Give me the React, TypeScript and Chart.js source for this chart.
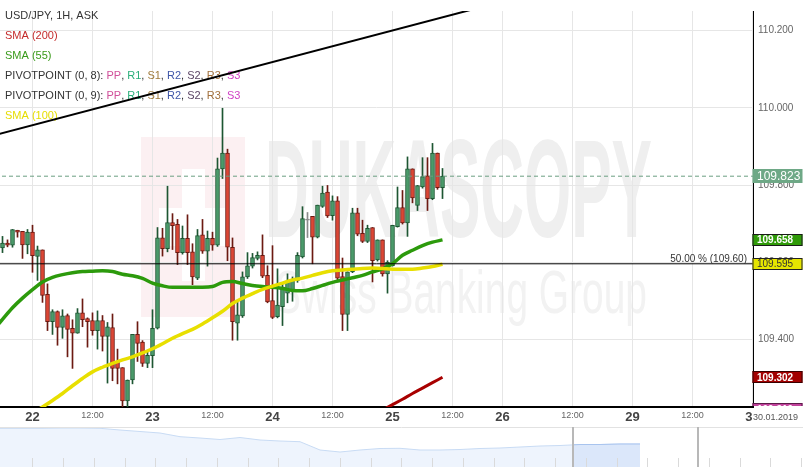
import React, { useEffect, useRef } from 'react';
import { Chart, registerables } from 'chart.js';

Chart.register(...registerables);

const FONT = '"Liberation Sans", Arial, Helvetica, sans-serif';

// ---- time axis (hours from 22 Jan 00:00) ----
const X_MIN = -6.5;
const X_MAX = 144.1;
const TICK_HOURS = [0, 12, 24, 36, 48, 60, 72, 84, 94, 108, 120, 132, 144];
const TICK_LABELS = ['22', '12:00', '23', '12:00', '24', '12:00', '25', '12:00', '26', '12:00', '29', '12:00', '30'];
const DATE_LABEL = '30.01.2019';

// ---- price axis ----
const Y_MIN = 109.225;
const Y_MAX = 110.251;
const Y_TICKS = [109.4, 109.6, 109.8, 110.0, 110.2];

// ---- hourly candles (first candle at hour -6) ----
const FIRST_HOUR = -6;
const OPEN = [109.637, 109.650, 109.644, 109.683, 109.680, 109.645, 109.678, 109.615, 109.632, 109.517, 109.446, 109.472, 109.431, 109.462, 109.429, 109.416, 109.469, 109.454, 109.449, 109.423, 109.449, 109.408, 109.431, 109.343, 109.327, 109.241, 109.295, 109.413, 109.393, 109.338, 109.358, 109.429, 109.663, 109.635, 109.703, 109.698, 109.625, 109.662, 109.627, 109.559, 109.671, 109.629, 109.662, 109.644, 109.842, 109.883, 109.639, 109.442, 109.461, 109.562, 109.590, 109.610, 109.618, 109.566, 109.501, 109.459, 109.485, 109.520, 109.528, 109.553, 109.614, 109.709, 109.719, 109.665, 109.745, 109.782, 109.721, 109.759, 109.563, 109.465, 109.575, 109.728, 109.675, 109.654, 109.690, 109.606, 109.658, 109.570, 109.591, 109.692, 109.742, 109.702, 109.842, 109.747, 109.795, 109.824, 109.765, 109.883, 109.793];
const HIGH = [109.667, 109.658, 109.685, 109.683, 109.680, 109.685, 109.696, 109.642, 109.632, 109.544, 109.477, 109.474, 109.477, 109.466, 109.451, 109.480, 109.505, 109.456, 109.469, 109.474, 109.462, 109.444, 109.466, 109.375, 109.327, 109.295, 109.413, 109.446, 109.397, 109.370, 109.477, 109.690, 109.688, 109.797, 109.726, 109.711, 109.694, 109.723, 109.648, 109.685, 109.711, 109.681, 109.678, 109.870, 109.999, 109.893, 109.663, 109.496, 109.575, 109.625, 109.623, 109.627, 109.671, 109.591, 109.643, 109.583, 109.545, 109.570, 109.562, 109.625, 109.744, 109.729, 109.719, 109.748, 109.797, 109.799, 109.772, 109.770, 109.611, 109.575, 109.740, 109.740, 109.709, 109.696, 109.690, 109.658, 109.658, 109.604, 109.696, 109.795, 109.786, 109.873, 109.842, 109.799, 109.871, 109.871, 109.908, 109.883, 109.843];
const LOW = [109.625, 109.640, 109.639, 109.665, 109.610, 109.622, 109.574, 109.553, 109.496, 109.423, 109.413, 109.385, 109.403, 109.355, 109.325, 109.416, 109.433, 109.380, 109.411, 109.375, 109.370, 109.287, 109.293, 109.285, 109.222, 109.222, 109.285, 109.343, 109.330, 109.327, 109.327, 109.427, 109.616, 109.627, 109.633, 109.594, 109.621, 109.594, 109.542, 109.555, 109.623, 109.590, 109.631, 109.641, 109.817, 109.604, 109.398, 109.398, 109.457, 109.558, 109.585, 109.606, 109.560, 109.495, 109.454, 109.456, 109.436, 109.495, 109.499, 109.548, 109.611, 109.664, 109.596, 109.663, 109.742, 109.716, 109.709, 109.555, 109.423, 109.423, 109.573, 109.669, 109.651, 109.651, 109.549, 109.603, 109.564, 109.520, 109.590, 109.691, 109.699, 109.667, 109.754, 109.734, 109.792, 109.734, 109.762, 109.789, 109.765];
const CLOSE = [109.650, 109.644, 109.685, 109.678, 109.645, 109.678, 109.617, 109.632, 109.514, 109.446, 109.472, 109.431, 109.461, 109.426, 109.416, 109.469, 109.451, 109.446, 109.423, 109.449, 109.408, 109.433, 109.325, 109.325, 109.241, 109.295, 109.413, 109.390, 109.338, 109.359, 109.429, 109.663, 109.635, 109.703, 109.695, 109.625, 109.662, 109.625, 109.562, 109.669, 109.629, 109.662, 109.644, 109.842, 109.883, 109.639, 109.446, 109.464, 109.562, 109.591, 109.612, 109.618, 109.564, 109.497, 109.457, 109.489, 109.536, 109.550, 109.553, 109.618, 109.713, 109.709, 109.665, 109.748, 109.779, 109.720, 109.759, 109.559, 109.465, 109.575, 109.728, 109.673, 109.654, 109.688, 109.604, 109.658, 109.570, 109.600, 109.696, 109.742, 109.702, 109.842, 109.767, 109.799, 109.822, 109.765, 109.883, 109.793, 109.823];

// ---- moving averages (sampled every 2 hours) ----
const SMA55_HOURS = [-7, -6, -4, -2, 0, 2, 4, 6, 8, 10, 12, 14, 16, 18, 20, 22, 24, 26, 28, 30, 32, 34, 36, 38, 40, 42, 44, 46, 48, 50, 52, 54, 56, 58, 60, 62, 64, 66, 68, 70, 72, 74, 76, 78, 80, 82];
const SMA55 = [109.437, 109.452, 109.482, 109.507, 109.529, 109.549, 109.561, 109.568, 109.573, 109.576, 109.577, 109.578, 109.576, 109.569, 109.565, 109.558, 109.546, 109.539, 109.535, 109.535, 109.535, 109.535, 109.537, 109.548, 109.550, 109.545, 109.540, 109.537, 109.535, 109.532, 109.527, 109.526, 109.532, 109.540, 109.548, 109.554, 109.560, 109.566, 109.575, 109.583, 109.596, 109.618, 109.631, 109.643, 109.652, 109.658];
const SMA100_HOURS = [0, 2, 4, 6, 8, 10, 12, 14, 16, 18, 20, 22, 24, 26, 28, 30, 32, 34, 36, 38, 40, 42, 44, 46, 48, 50, 52, 54, 56, 58, 60, 62, 64, 66, 68, 70, 72, 74, 76, 78, 80, 82];
const SMA100 = [109.210, 109.225, 109.242, 109.260, 109.280, 109.299, 109.316, 109.328, 109.338, 109.347, 109.355, 109.365, 109.376, 109.389, 109.403, 109.415, 109.426, 109.440, 109.456, 109.473, 109.493, 109.507, 109.519, 109.530, 109.538, 109.546, 109.554, 109.559, 109.566, 109.573, 109.578, 109.580, 109.582, 109.584, 109.585, 109.584, 109.582, 109.582, 109.582, 109.585, 109.589, 109.595];
const SMA200_HOURS = [70, 72, 74, 76, 78, 80, 82];
const SMA200 = [109.217, 109.231, 109.245, 109.260, 109.274, 109.288, 109.302];

// ---- drawn levels ----
const TREND_HOURS = [-10, 100];
const TREND_LEVELS = [109.921, 110.296];
const FIB_LEVEL = 109.596;
const FIB_LABEL = '50.00 %';
const PIVOT_S3_LEVEL = 109.219;

// ---- navigator (area height, sampled along the strip) ----
const NAV_LEVELS = [38.7, 38.7, 38.7, 39, 39, 38.7, 37, 35.5, 34, 30.3, 29, 27.5, 29.5, 27, 26, 25.3, 17, 15, 17, 18.5, 18.7, 17, 17, 17.5, 18.5, 19, 20, 21, 21.5, 22.5, 22.5, 23, 23];
const NAV_STEP_PX = 20;
const NAV_WINDOW = [573, 641];
const NAV_HANDLES = [573, 698];

const UP_FILL = '#4a9a6a';
const UP_LINE = '#1d5632';
const DOWN_FILL = '#dc4634';
const DOWN_LINE = '#6c1a12';
const FLAT = '#8a8a8a';

const LEGEND_ROWS: Array<Array<[string, string]>> = [
  [['USD/JPY, 1H, ASK', '#333333']],
  [['SMA (200)', '#c42b2b']],
  [['SMA (55)', '#3a9a1a']],
  [['PIVOTPOINT (0, 8): ', '#333333'], ['PP', '#d1509a'], [', ', '#333333'], ['R1', '#2aae7a'], [', ', '#333333'], ['S1', '#a07c3c'], [', ', '#333333'], ['R2', '#3f56a8'], [', ', '#333333'], ['S2', '#5b4565'], [', ', '#333333'], ['R3', '#a2703c'], [', ', '#333333'], ['S3', '#cf3fc4']],
  [['PIVOTPOINT (0, 9): ', '#333333'], ['PP', '#d1509a'], [', ', '#333333'], ['R1', '#2aae7a'], [', ', '#333333'], ['S1', '#a07c3c'], [', ', '#333333'], ['R2', '#3f56a8'], [', ', '#333333'], ['S2', '#5b4565'], [', ', '#333333'], ['R3', '#a2703c'], [', ', '#333333'], ['S3', '#cf3fc4']],
  [['SMA (100)', '#e6dd00']],
];

function kind(i: number) {
  if (CLOSE[i] > OPEN[i]) return 'up';
  if (CLOSE[i] < OPEN[i]) return 'down';
  return 'flat';
}

const watermarkPlugin = {
  id: 'watermark',
  beforeDraw(chart: any) {
    const ctx = chart.ctx;
    ctx.save();
    // logo block
    ctx.fillStyle = '#fcf0f2';
    ctx.fillRect(141, 137, 104, 180);
    ctx.fillStyle = '#ffffff';
    ctx.fillRect(182, 169, 23, 112);
    ctx.fillRect(159, 208, 66, 38);
    // brand text
    ctx.fillStyle = '#efefef';
    ctx.font = 'bold 140px ' + FONT;
    ctx.textBaseline = 'alphabetic';
    let w = ctx.measureText('DUKASCOPY').width;
    ctx.save();
    ctx.translate(265, 237);
    ctx.scale(387 / w, 1);
    ctx.fillText('DUKASCOPY', 0, 0);
    ctx.restore();
    ctx.fillStyle = '#f2f2f2';
    ctx.font = '61px ' + FONT;
    w = ctx.measureText('Swiss Banking Group').width;
    ctx.save();
    ctx.translate(275, 313);
    ctx.scale(372 / w, 1);
    ctx.fillText('Swiss Banking Group', 0, 0);
    ctx.restore();
    ctx.restore();
  },
};

const legendPlugin = {
  id: 'textLegend',
  beforeDatasetsDraw(chart: any) {
    const ctx = chart.ctx;
    ctx.save();
    ctx.font = '11px ' + FONT;
    ctx.textBaseline = 'middle';
    ctx.textAlign = 'left';
    LEGEND_ROWS.forEach((row, r) => {
      let x = 5;
      const y = 16 + r * 20;
      row.forEach(([t, c]) => {
        ctx.fillStyle = c;
        ctx.fillText(t, x, y);
        x += ctx.measureText(t).width;
      });
    });
    ctx.restore();
  },
};

const overlayPlugin = {
  id: 'overlays',
  afterDraw(chart: any) {
    const ctx = chart.ctx;
    const ys = chart.scales.y;
    const area = chart.chartArea;
    ctx.save();
    // fib label
    ctx.font = '10px ' + FONT;
    ctx.fillStyle = '#333333';
    ctx.textAlign = 'right';
    ctx.textBaseline = 'middle';
    ctx.fillText(FIB_LABEL + ' (' + FIB_LEVEL.toFixed(2) + ')', area.right - 6, ys.getPixelForValue(FIB_LEVEL) - 5);

    // price boxes on the axis
    ctx.save();
    ctx.beginPath();
    ctx.rect(area.right - 2, 0, 60, area.bottom - 1);
    ctx.clip();
    const boxes = [
      { v: PIVOT_S3_LEVEL, fill: '#c2429c', stroke: '#5a1a48', text: '#ffffff', font: 'bold 10px ' + FONT, h: 12 },
      { v: SMA200[SMA200.length - 1], fill: '#a30000', stroke: '#3a0000', text: '#ffffff', font: 'bold 10px ' + FONT, h: 12 },
      { v: SMA100[SMA100.length - 1], fill: '#e6e600', stroke: '#222222', text: '#333333', font: '10px ' + FONT, h: 12 },
      { v: SMA55[SMA55.length - 1], fill: '#2f9a08', stroke: '#1a1a1a', text: '#ffffff', font: 'bold 10px ' + FONT, h: 12 },
      { v: CLOSE[CLOSE.length - 1], fill: '#6ea886', stroke: null, text: '#ffffff', font: '12px ' + FONT, h: 14 },
    ];
    boxes.forEach((b) => {
      const py = ys.getPixelForValue(b.v);
      const x0 = area.right - 0.5;
      ctx.fillStyle = b.fill;
      ctx.fillRect(x0, Math.round(py - b.h / 2), 50, b.h);
      if (b.stroke) {
        ctx.strokeStyle = b.stroke;
        ctx.lineWidth = 1;
        ctx.strokeRect(x0 + 0.5, Math.round(py - b.h / 2) + 0.5, 49, b.h - 1);
      }
      ctx.fillStyle = b.text;
      ctx.font = b.font;
      ctx.textAlign = 'left';
      ctx.textBaseline = 'middle';
      ctx.fillText(b.v.toFixed(3), area.right + 4, py + 0.5);
    });
    ctx.restore();

    // date box at the end of the time axis
    ctx.fillStyle = '#ffffff';
    ctx.fillRect(area.right - 0.5, area.bottom + 2, 51, 18);
    ctx.fillStyle = '#555555';
    ctx.font = '9px ' + FONT;
    ctx.textAlign = 'left';
    ctx.textBaseline = 'middle';
    ctx.fillText(DATE_LABEL, area.right, area.bottom + 10.5);
    ctx.restore();
  },
};

const navPlugin = {
  id: 'navDecor',
  afterDraw(chart: any) {
    const ctx = chart.ctx;
    const w = chart.width;
    const h = chart.height;
    ctx.save();
    ctx.strokeStyle = '#e2e2e2';
    ctx.lineWidth = 1;
    ctx.beginPath();
    ctx.moveTo(0, 0.5);
    ctx.lineTo(w, 0.5);
    ctx.stroke();
    ctx.strokeStyle = '#dadada';
    ctx.beginPath();
    for (let x = 32.3; x < w; x += 30.75) {
      const px = Math.round(x) + 0.5;
      ctx.moveTo(px, h - 9);
      ctx.lineTo(px, h);
    }
    ctx.stroke();
    ctx.strokeStyle = '#b8b8b8';
    ctx.lineWidth = 2;
    ctx.beginPath();
    NAV_HANDLES.forEach((x) => {
      ctx.moveTo(x, 0);
      ctx.lineTo(x, h);
    });
    ctx.stroke();
    ctx.restore();
  },
};

export default function App() {
  const mainRef = useRef<HTMLCanvasElement>(null);
  const navRef = useRef<HTMLCanvasElement>(null);

  useEffect(() => {
    document.body.style.margin = '0';
    const hours = OPEN.map((_, i) => FIRST_HOUR + i);
    const kinds = OPEN.map((_, i) => kind(i));
    const fillOf = (k: string) => (k === 'up' ? UP_FILL : k === 'down' ? DOWN_FILL : FLAT);
    const lineOf = (k: string) => (k === 'up' ? UP_LINE : k === 'down' ? DOWN_LINE : FLAT);

    const main = new Chart(mainRef.current as HTMLCanvasElement, {
      type: 'bar',
      data: {
        datasets: [
          {
            type: 'line',
            data: TREND_HOURS.map((x, k) => ({ x, y: TREND_LEVELS[k] })),
            borderColor: '#000000',
            borderWidth: 2,
            pointRadius: 0,
            order: 0,
          } as any,
          {
            type: 'line',
            data: [{ x: X_MIN - 1, y: FIB_LEVEL }, { x: X_MAX + 1, y: FIB_LEVEL }],
            borderColor: '#000000',
            borderWidth: 1,
            pointRadius: 0,
            order: 1,
          } as any,
          {
            type: 'line',
            data: [{ x: X_MIN - 1, y: CLOSE[CLOSE.length - 1] }, { x: X_MAX + 1, y: CLOSE[CLOSE.length - 1] }],
            borderColor: '#6b9f82',
            borderWidth: 1,
            borderDash: [4, 3],
            pointRadius: 0,
            order: 1,
          } as any,
          {
            type: 'line',
            data: SMA100_HOURS.map((x, k) => ({ x, y: SMA100[k] })),
            borderColor: '#e8df00',
            borderWidth: 3.5,
            pointRadius: 0,
            cubicInterpolationMode: 'monotone',
            order: 2,
          } as any,
          {
            type: 'line',
            data: SMA55_HOURS.map((x, k) => ({ x, y: SMA55[k] })),
            borderColor: '#2c9a0c',
            borderWidth: 3.5,
            pointRadius: 0,
            cubicInterpolationMode: 'monotone',
            order: 3,
          } as any,
          {
            type: 'line',
            data: SMA200_HOURS.map((x, k) => ({ x, y: SMA200[k] })),
            borderColor: '#a80000',
            borderWidth: 3,
            pointRadius: 0,
            cubicInterpolationMode: 'monotone',
            order: 3,
          } as any,
          {
            type: 'bar',
            data: hours.map((x, i) => ({ x, y: [OPEN[i], CLOSE[i]] })),
            backgroundColor: kinds.map(fillOf),
            borderColor: kinds.map(lineOf),
            borderWidth: 1,
            borderSkipped: false,
            barThickness: 4,
            minBarLength: 1,
            grouped: false,
            order: 5,
          } as any,
          {
            type: 'bar',
            data: hours.map((x, i) => ({ x, y: [LOW[i], HIGH[i]] })),
            backgroundColor: kinds.map(lineOf),
            borderWidth: 0,
            barThickness: 1,
            grouped: false,
            order: 6,
          } as any,
        ],
      },
      options: {
        responsive: false,
        animation: false,
        devicePixelRatio: 1,
        layout: { padding: 0, autoPadding: false } as any,
        plugins: { legend: { display: false }, tooltip: { enabled: false } },
        scales: {
          x: {
            type: 'linear',
            min: X_MIN,
            max: X_MAX,
            offset: false,
            afterFit: (s: any) => {
              s.height = 20;
            },
            afterBuildTicks: (s: any) => {
              s.ticks = TICK_HOURS.map((v) => ({ value: v }));
            },
            grid: { color: '#e6e6e6', lineWidth: 1, drawTicks: false, offset: false },
            border: { color: '#000000', width: 2 },
            ticks: {
              autoSkip: false,
              maxRotation: 0,
              padding: 3,
              callback: (_v: any, i: number) => TICK_LABELS[i],
              font: (c: any) => (c.index % 2 === 0 ? { family: FONT, size: 13, weight: 'bold' } : { family: FONT, size: 9 }),
              color: (c: any) => (c.index % 2 === 0 ? '#444444' : '#666666'),
            },
          } as any,
          y: {
            type: 'linear',
            position: 'right',
            min: Y_MIN,
            max: Y_MAX,
            afterFit: (s: any) => {
              s.width = 50;
            },
            afterBuildTicks: (s: any) => {
              s.ticks = Y_TICKS.map((v) => ({ value: v }));
            },
            grid: { color: '#e6e6e6', lineWidth: 1, drawTicks: false },
            border: { color: '#000000', width: 1 },
            ticks: {
              padding: 5,
              font: { family: FONT, size: 10 },
              color: '#666666',
              callback: (v: any) => Number(v).toFixed(3),
            },
          } as any,
        },
      },
      plugins: [watermarkPlugin, legendPlugin, overlayPlugin],
    });

    const navData = NAV_LEVELS.map((y, k) => ({ x: k, y }));
    const navWidth = 803;
    const nav = new Chart(navRef.current as HTMLCanvasElement, {
      type: 'line',
      data: {
        datasets: [
          {
            data: navData,
            fill: 'start',
            backgroundColor: '#eef4fd',
            borderColor: '#c8dbf4',
            borderWidth: 1,
            pointRadius: 0,
            order: 1,
          } as any,
          {
            data: navData,
            fill: 'start',
            backgroundColor: '#dbe7fa',
            borderColor: '#a8c4ee',
            borderWidth: 1,
            pointRadius: 0,
            order: 0,
            clip: { left: -NAV_WINDOW[0], right: -(navWidth - NAV_WINDOW[1]), top: 0, bottom: 0 },
          } as any,
        ],
      },
      options: {
        responsive: false,
        animation: false,
        devicePixelRatio: 1,
        layout: { padding: 0, autoPadding: false } as any,
        plugins: { legend: { display: false }, tooltip: { enabled: false } },
        scales: {
          x: { type: 'linear', display: false, min: 0, max: navWidth / NAV_STEP_PX },
          y: { display: false, min: 0, max: 40 },
        },
      },
      plugins: [navPlugin],
    });

    return () => {
      main.destroy();
      nav.destroy();
    };
  }, []);

  return (
    <div style={{ position: 'absolute', left: 0, top: 0, width: 803, height: 467, background: '#ffffff' }}>
      <canvas ref={mainRef} width={803} height={427} style={{ display: 'block' }} />
      <canvas ref={navRef} width={803} height={40} style={{ display: 'block' }} />
    </div>
  );
}
